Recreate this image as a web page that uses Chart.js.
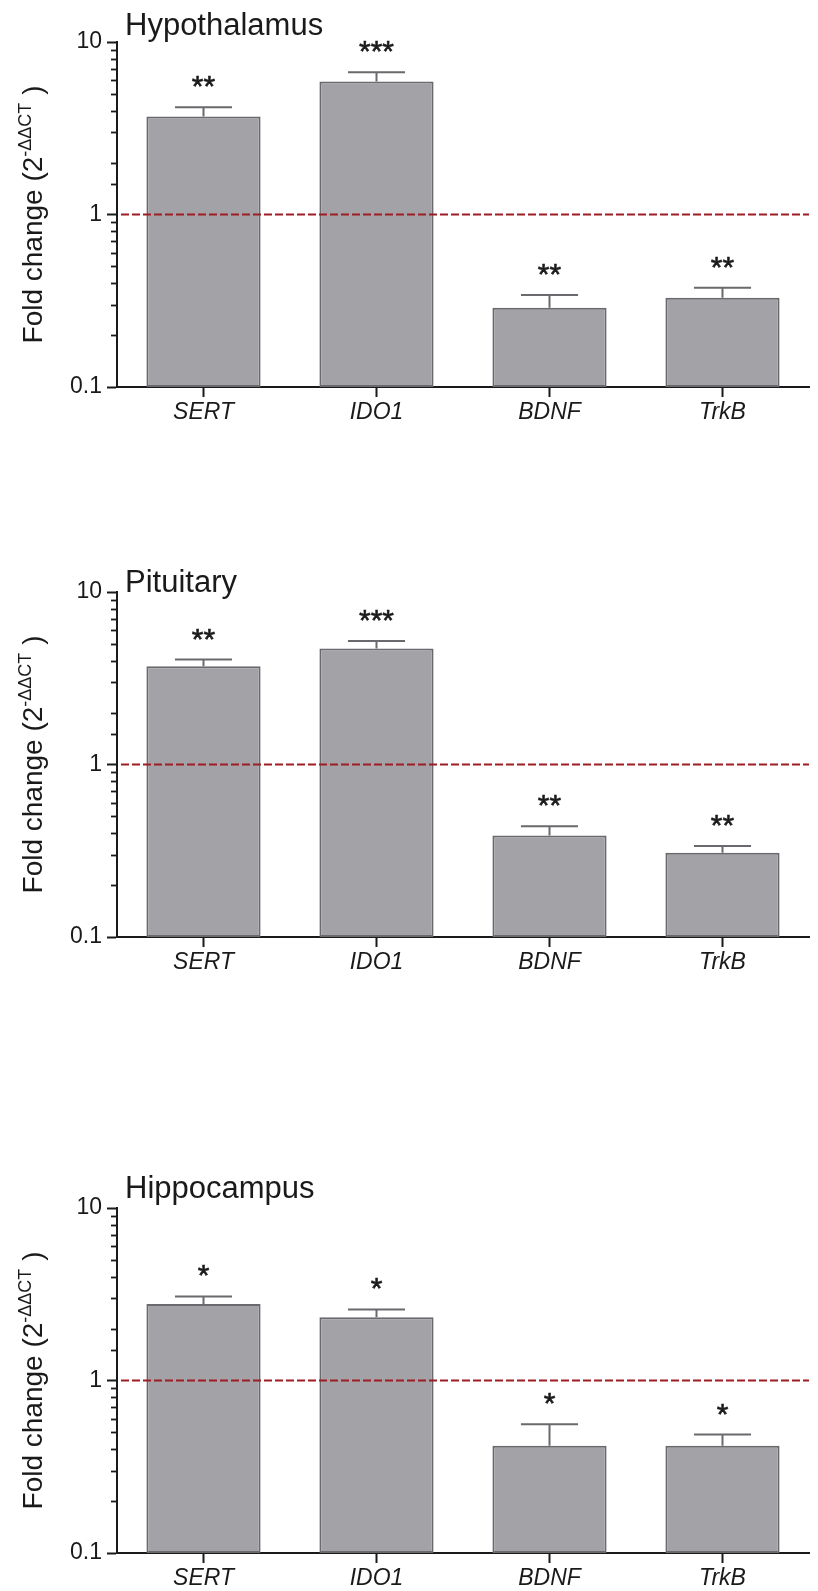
<!DOCTYPE html>
<html>
<head>
<meta charset="utf-8">
<script src="https://cdn.jsdelivr.net/npm/chart.js@4/dist/chart.umd.min.js"></script>
<style>
  html, body { margin: 0; padding: 0; background: #fff; }
  #page { position: relative; width: 818px; height: 1591px; overflow: hidden; }
  .panel { position: absolute; left: 0; width: 818px; height: 425px; }
</style>
</head>
<body>
<div id="page">
  <div class="panel" style="top:0px"><canvas id="hypothalamus" width="818" height="425"></canvas></div>
  <div class="panel" style="top:550px"><canvas id="pituitary" width="818" height="425"></canvas></div>
  <div class="panel" style="top:1166px"><canvas id="hippocampus" width="818" height="425"></canvas></div>
</div>
<script>
// Genes on the x axis
const genes = ['SERT', 'IDO1', 'BDNF', 'TrkB'];

// Labelled decades on the log axis
const yTickLabels = [0.1, 1, 10];

// Hypothalamus: mean fold change, SEM and significance
const hypothalamusMean = [3.70, 5.91, 0.288, 0.329];
const hypothalamusSem  = [0.48, 0.76, 0.054, 0.047];
const hypothalamusSig  = ['**', '***', '**', '**'];

// Pituitary
const pituitaryMean = [3.71, 4.70, 0.388, 0.308];
const pituitarySem  = [0.35, 0.50, 0.051, 0.029];
const pituitarySig  = ['**', '***', '**', '**'];

// Hippocampus
const hippocampusMean = [2.78, 2.33, 0.418, 0.418];
const hippocampusSem  = [0.29, 0.25, 0.140, 0.068];
const hippocampusSig  = ['*', '*', '*', '*'];

const FONT = '"Liberation Sans", Arial, Helvetica, sans-serif';
const INK = '#1a1a1a';
const BAR_FILL = '#a3a2a7';
const BAR_EDGE = '#6a696d';
const REF_LINE = '#9e1c22';

// Draws error caps, stars, the y = 1 reference line, minor ticks and the text around the plot
const panelDecor = {
  id: 'panelDecor',
  afterDatasetsDraw(chart, args, opts) {
    const ctx = chart.ctx;
    const area = chart.chartArea;
    const y = chart.scales.y;
    const meta = chart.getDatasetMeta(0);
    const mean = chart.data.datasets[0].data;

    ctx.save();
    // minor ticks of the log axis
    ctx.strokeStyle = INK;
    ctx.lineWidth = 1.8;
    y.ticks.forEach(t => {
      if (yTickLabels.includes(t.value)) return;
      const py = Math.round(y.getPixelForValue(t.value)) + 0.5;
      ctx.beginPath();
      ctx.moveTo(area.left - 6, py);
      ctx.lineTo(area.left, py);
      ctx.stroke();
    });

    // upper error bars
    meta.data.forEach((bar, i) => {
      const top = y.getPixelForValue(mean[i] + opts.sem[i]);
      const half = bar.width / 4;
      ctx.strokeStyle = BAR_EDGE;
      ctx.lineWidth = 2;
      ctx.beginPath();
      ctx.moveTo(bar.x, bar.y);
      ctx.lineTo(bar.x, top);
      ctx.moveTo(bar.x - half, top);
      ctx.lineTo(bar.x + half, top);
      ctx.stroke();

      // significance stars
      ctx.fillStyle = INK;
      ctx.strokeStyle = INK;
      ctx.lineWidth = 0.6;
      ctx.font = `30px ${FONT}`;
      ctx.textAlign = 'center';
      ctx.textBaseline = 'alphabetic';
      ctx.fillText(opts.sig[i], bar.x, top - 11);
      ctx.strokeText(opts.sig[i], bar.x, top - 11);
    });

    // dashed reference line at fold change 1
    const py1 = y.getPixelForValue(1);
    ctx.strokeStyle = REF_LINE;
    ctx.lineWidth = 2;
    ctx.setLineDash([8, 3]);
    ctx.beginPath();
    ctx.moveTo(area.left + 4, py1);
    ctx.lineTo(area.right, py1);
    ctx.stroke();
    ctx.setLineDash([]);

    // panel title
    ctx.fillStyle = INK;
    ctx.font = `31px ${FONT}`;
    ctx.textAlign = 'left';
    ctx.textBaseline = 'alphabetic';
    ctx.fillText(opts.title, area.left + 8, opts.titleBaseline);

    // rotated y axis title with superscript exponent
    const parts = [
      ['Fold change (2', `28px ${FONT}`, 0],
      ['-\u0394\u0394CT', `18px ${FONT}`, -11],
      [' )', `28px ${FONT}`, 0]
    ];
    let total = 0;
    const widths = parts.map(p => { ctx.font = p[1]; const w = ctx.measureText(p[0]).width; total += w; return w; });
    ctx.translate(42, (area.top + area.bottom) / 2);
    ctx.rotate(-Math.PI / 2);
    let x = -total / 2;
    parts.forEach((p, i) => {
      ctx.font = p[1];
      ctx.fillText(p[0], x, p[2]);
      x += widths[i];
    });
    ctx.restore();
  }
};

function buildPanel(canvasId, title, titleBaseline, mean, sem, sig) {
  return new Chart(document.getElementById(canvasId), {
    type: 'bar',
    data: {
      labels: genes,
      datasets: [{
        data: mean,
        backgroundColor: BAR_FILL,
        borderColor: BAR_EDGE,
        borderWidth: 2,
        borderSkipped: false,
        barPercentage: 0.66,
        categoryPercentage: 1
      }]
    },
    options: {
      responsive: false,
      animation: false,
      layout: { padding: { top: 42, right: 9, left: 0, bottom: 0 } },
      plugins: {
        legend: { display: false },
        tooltip: { enabled: false },
        title: { display: false },
        panelDecor: { title, titleBaseline, sem, sig }
      },
      scales: {
        x: {
          grid: { drawOnChartArea: false, offset: false, tickLength: 10, tickWidth: 2, tickColor: INK },
          border: { color: INK, width: 2 },
          ticks: { font: { family: FONT, size: 23, style: 'italic' }, color: INK, padding: 2, maxRotation: 0 },
          afterFit(s) { s.height = 38; }
        },
        y: {
          type: 'logarithmic',
          min: 0.1,
          max: 10,
          grid: {
            drawOnChartArea: false,
            tickLength: 10,
            tickWidth: 2,
            tickColor: c => (c.tick && yTickLabels.includes(c.tick.value)) ? INK : 'rgba(0,0,0,0)'
          },
          border: { color: INK, width: 2 },
          ticks: {
            autoSkip: false,
            font: { family: FONT, size: 23 },
            color: INK,
            padding: 5,
            callback: v => yTickLabels.includes(v) ? String(v) : ''
          },
          afterFit(s) { s.width = 117; }
        }
      }
    },
    plugins: [panelDecor]
  });
}

buildPanel('hypothalamus', 'Hypothalamus', 35, hypothalamusMean, hypothalamusSem, hypothalamusSig);
buildPanel('pituitary', 'Pituitary', 42, pituitaryMean, pituitarySem, pituitarySig);
buildPanel('hippocampus', 'Hippocampus', 32, hippocampusMean, hippocampusSem, hippocampusSig);
</script>
</body>
</html>
